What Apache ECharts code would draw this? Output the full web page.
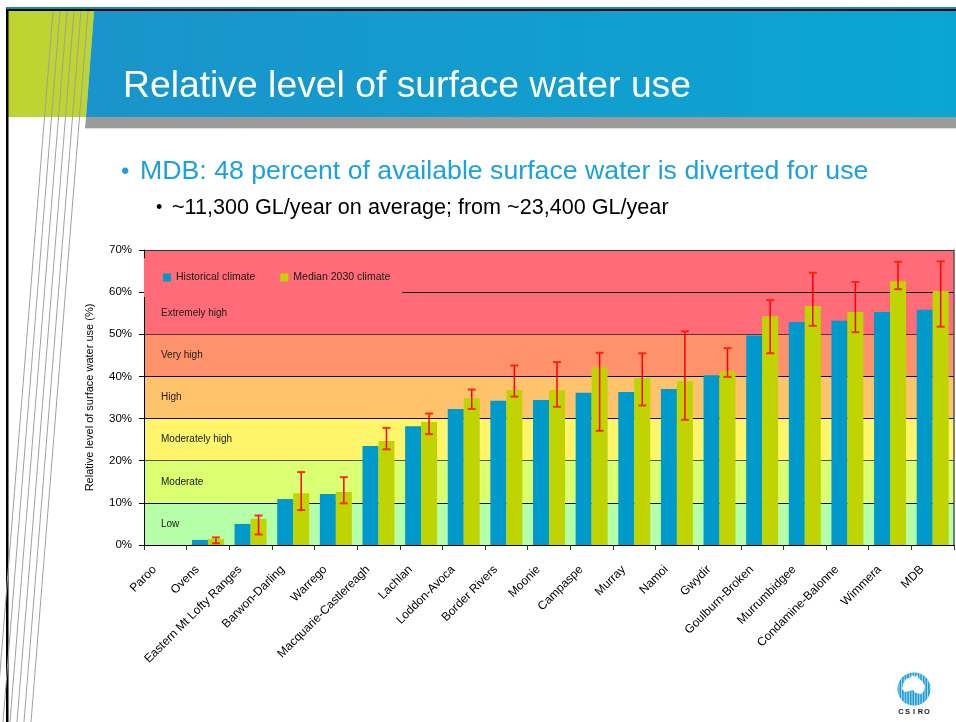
<!DOCTYPE html>
<html>
<head>
<meta charset="utf-8">
<title>Relative level of surface water use</title>
<script src="https://cdn.jsdelivr.net/npm/echarts/dist/echarts.min.js"></script>
<style>
  html, body { margin: 0; padding: 0; background: #ffffff; }
  #chart { width: 956px; height: 722px; }
</style>
</head>
<body>
<div id="chart"></div>
<script>
// Regions of the Murray-Darling Basin, ordered by historical level of use
const categories = ['Paroo', 'Ovens', 'Eastern Mt Lofty Ranges', 'Barwon-Darling', 'Warrego',
  'Macquarie-Castlereagh', 'Lachlan', 'Loddon-Avoca', 'Border Rivers', 'Moonie', 'Campaspe',
  'Murray', 'Namoi', 'Gwydir', 'Goulburn-Broken', 'Murrumbidgee', 'Condamine-Balonne',
  'Wimmera', 'MDB'];

// Relative level of surface water use (%)
const historical = [0, 1.2, 5.0, 10.9, 12.1, 23.5, 28.2, 32.3, 34.2, 34.4, 36.1, 36.3, 37.0,
  40.3, 49.7, 52.9, 53.2, 55.3, 55.8];
const median2030 = [0, 1.4, 6.2, 12.3, 12.6, 24.7, 29.2, 34.9, 36.8, 36.8, 42.1, 39.6, 38.9,
  41.2, 54.3, 56.7, 55.3, 62.6, 60.3];

// Range of 2030 climate scenarios (dry to wet extreme)
const rangeLow = [null, 0.4, 2.5, 8.3, 9.9, 22.7, 26.3, 32.3, 35.2, 32.8, 27.1, 33.1, 29.7,
  39.9, 45.5, 52.0, 50.5, 60.7, 51.8];
const rangeHigh = [null, 1.8, 7.0, 17.3, 16.1, 27.8, 31.2, 36.9, 42.6, 43.4, 45.6, 45.5, 50.7,
  46.7, 58.1, 64.6, 62.4, 67.2, 67.3];

// Level-of-use classes
const bandLower = [0, 10, 20, 30, 40, 50, 60];
const bandUpper = [10, 20, 30, 40, 50, 60, 70];
const bandNames = ['Low', 'Moderate', 'Moderately high', 'High', 'Very high', 'Extremely high', ''];

// Y axis ticks
const yTicks = [0, 10, 20, 30, 40, 50, 60, 70];

const seriesNames = ['Historical climate', 'Median 2030 climate'];

// ---- styling ----
const FONT = 'Liberation Sans, Arial, Helvetica, sans-serif';
const bandColors = ['#B4FFA8', '#DAFF71', '#FFF56B', '#FFC36B', '#FE936B', '#FF6B76', '#FF6B76'];
const gridLineColors = ['#000000', '#111111', '#57564c', '#111111', '#111111', '#5e3434', '#111111', '#333333'];
const BLUE = '#0099CC';
const GREEN = '#BFD400';

const chart = echarts.init(document.getElementById('chart'), null, { renderer: 'canvas' });

// slide decoration: diagonal hairlines on the left margin
const hairTop = [53, 60, 67, 74, 81, 88];
const hairlines = hairTop.map(function (x0) {
  return {
    type: 'line', z: 5,
    shape: { x1: x0, y1: 11, x2: x0 - 57, y2: 722 },
    style: { stroke: '#a0a0a0', lineWidth: 1 }
  };
});

// logo: striped circle
const logoCx = 914, logoCy = 689, logoR = 16.5;
const logoParts = [{
  type: 'circle', shape: { cx: logoCx, cy: logoCy, r: logoR }, style: { fill: '#1A9AD6' }
}];
logoParts.push({
  type: 'polygon',
  shape: { points: [[903, 684], [906, 679], [910, 678], [912, 675], [915, 677], [917, 675], [919, 679], [922, 681], [925, 686], [924, 691], [921, 694], [916, 693], [913, 690], [909, 691], [905, 692], [902, 689]] },
  style: { fill: '#ffffff' }
});
for (let sx = logoCx - logoR + 1.5; sx < logoCx + logoR; sx += 2.6) {
  const dx = sx - logoCx;
  const h = Math.sqrt(Math.max(0, logoR * logoR - dx * dx));
  logoParts.push({
    type: 'line',
    shape: { x1: sx, y1: logoCy - h, x2: sx, y2: logoCy + h },
    style: { stroke: 'rgba(255,255,255,0.85)', lineWidth: 0.8 }
  });
}
'CSIRO'.split('').forEach(function (ch, i) {
  logoParts.push({
    type: 'text', x: 901 + i * 6.5, y: 712,
    style: { text: ch, fill: '#1a1a1a', fontSize: 7.5, fontWeight: 'bold', fontFamily: FONT, align: 'center', verticalAlign: 'middle' }
  });
});

const option = {
  animation: false,
  backgroundColor: '#ffffff',
  textStyle: { fontFamily: FONT },
  graphic: [
    // top rules
    { type: 'rect', shape: { x: 6, y: 7, width: 950, height: 2 }, style: { fill: '#0b8fc0' } },
    { type: 'rect', shape: { x: 6, y: 9, width: 950, height: 2 }, style: { fill: '#000000' } },
    // green side panel
    { type: 'polygon', shape: { points: [[8, 11], [94, 11], [86, 117], [8, 117]] }, style: { fill: '#BDD431' } },
    // title band
    {
      type: 'polygon', shape: { points: [[94, 11], [956, 11], [956, 117], [86, 117]] },
      style: {
        fill: { type: 'linear', x: 0, y: 0, x2: 1, y2: 0, colorStops: [
          { offset: 0, color: '#1A94CA' }, { offset: 1, color: '#0AA6D2' }] }
      }
    },
    // grey strip under title
    { type: 'polygon', shape: { points: [[86, 117], [956, 117], [956, 128], [85, 128]] }, style: { fill: '#9B9B9B' } },
    { type: 'rect', shape: { x: 85, y: 128, width: 871, height: 1 }, style: { fill: '#dddddd' } },
    // left border
    { type: 'rect', shape: { x: 6, y: 9, width: 2.5, height: 713 }, style: { fill: '#000000' } },
    ...hairlines,
    // title
    {
      type: 'text', x: 123, y: 87,
      style: { text: 'Relative level of surface water use', fill: '#ffffff', fontSize: 37.3, fontFamily: FONT, verticalAlign: 'middle' }
    },
    // bullets
    { type: 'text', x: 121, y: 172, style: { text: '•', fill: '#1BA1DB', fontSize: 24, fontFamily: FONT, verticalAlign: 'middle' } },
    {
      type: 'text', x: 140, y: 172,
      style: { text: 'MDB: 48 percent of available surface water is diverted for use', fill: '#1BA1DB', fontSize: 26.7, fontFamily: FONT, verticalAlign: 'middle' }
    },
    { type: 'text', x: 156, y: 208, style: { text: '•', fill: '#000000', fontSize: 18, fontFamily: FONT, verticalAlign: 'middle' } },
    {
      type: 'text', x: 172, y: 208,
      style: { text: '~11,300 GL/year on average; from ~23,400 GL/year', fill: '#000000', fontSize: 21.6, fontFamily: FONT, verticalAlign: 'middle' }
    },
    { type: 'group', children: logoParts }
  ],
  legend: {
    data: seriesNames,
    left: 144, top: 258,
    orient: 'horizontal',
    icon: 'rect',
    itemWidth: 8, itemHeight: 8, itemGap: 25,
    padding: [14, 12, 14, 19],
    backgroundColor: bandColors[6],
    textStyle: { fontSize: 10.5, color: '#1a1a1a', fontFamily: FONT },
    selectedMode: false,
    z: 6
  },
  grid: { left: 144, right: 2, top: 250, bottom: 177, containLabel: false },
  xAxis: {
    type: 'category',
    data: categories,
    z: 4,
    axisLine: { show: true, lineStyle: { color: '#000000', width: 1 } },
    axisTick: { show: true, length: 5, lineStyle: { color: '#333333' } },
    axisLabel: { rotate: 45, fontSize: 12, color: '#000000', margin: 12, padding: [0, 15, 0, 0], interval: 0, fontFamily: FONT },
    splitLine: { show: false }
  },
  yAxis: [{
    type: 'value',
    min: 0, max: 70, interval: 10,
    z: 1.5,
    name: 'Relative level of surface water use (%)',
    nameLocation: 'middle',
    nameGap: 49,
    nameTextStyle: { fontSize: 11, color: '#000000', fontFamily: FONT },
    axisLine: { show: true, lineStyle: { color: '#000000' } },
    axisTick: { show: true, length: 5, lineStyle: { color: '#000000' } },
    axisLabel: {
      fontSize: 11.5, color: '#000000', margin: 12, fontFamily: FONT,
      formatter: function (v) { return yTicks.indexOf(v) >= 0 ? v + '%' : ''; }
    },
    splitLine: { show: true, lineStyle: { color: gridLineColors, width: 1 } }
  }, {
    type: 'value', position: 'right', min: 0, max: 70, interval: 10, z: 4,
    axisLine: { show: true, lineStyle: { color: '#555555', width: 1.5 } },
    axisTick: { show: false }, axisLabel: { show: false }, splitLine: { show: false }
  }],
  series: [
    {
      // coloured class bands with their names
      type: 'custom',
      name: 'classes',
      z: 1,
      silent: true,
      encode: { x: 0, y: [1, 2] },
      data: bandLower.map(function (lo, i) { return [0, lo, bandUpper[i]]; }),
      renderItem: function (params, api) {
        const cs = params.coordSys;
        const top = api.coord([0, api.value(2)])[1];
        const bottom = api.coord([0, api.value(1)])[1];
        const name = bandNames[params.dataIndex];
        return {
          type: 'group',
          children: [
            { type: 'rect', shape: { x: cs.x, y: top, width: cs.width, height: bottom - top }, style: { fill: bandColors[params.dataIndex] } },
            {
              type: 'text', x: cs.x + 17, y: (top + bottom) / 2,
              style: { text: name, fill: '#1a1a1a', fontSize: 10, fontFamily: FONT, verticalAlign: 'middle', align: 'left' }
            }
          ]
        };
      }
    },
    {
      name: seriesNames[0],
      type: 'bar',
      z: 2,
      data: historical,
      barGap: '0%',
      barCategoryGap: '25%',
      itemStyle: { color: BLUE }
    },
    {
      name: seriesNames[1],
      type: 'bar',
      z: 2,
      data: median2030,
      barGap: '0%',
      barCategoryGap: '25%',
      itemStyle: { color: GREEN }
    },
    {
      // range of 2030 scenarios, centred on the median 2030 bar
      type: 'custom',
      name: 'range',
      z: 3,
      silent: true,
      encode: { x: 0, y: [1, 2] },
      data: categories.map(function (c, i) {
        return rangeLow[i] == null ? null : [i, rangeLow[i], rangeHigh[i]];
      }).filter(function (d) { return d !== null; }),
      renderItem: function (params, api) {
        const catW = api.size([1, 0])[0];
        const x = api.coord([api.value(0), 0])[0] + catW * 0.1875;
        const yLo = api.coord([api.value(0), api.value(1)])[1];
        const yHi = api.coord([api.value(0), api.value(2)])[1];
        const half = catW * 0.094;
        const stem = { stroke: '#FF0000', lineWidth: 1.5 };
        const cap = { stroke: 'rgba(250,30,10,0.9)', lineWidth: 2 };
        return {
          type: 'group',
          children: [
            { type: 'line', shape: { x1: x, y1: yHi, x2: x, y2: yLo }, style: stem },
            { type: 'line', shape: { x1: x - half, y1: yHi, x2: x + half, y2: yHi }, style: cap },
            { type: 'line', shape: { x1: x - half, y1: yLo, x2: x + half, y2: yLo }, style: cap }
          ]
        };
      }
    }
  ]
};

chart.setOption(option);
</script>
</body>
</html>
